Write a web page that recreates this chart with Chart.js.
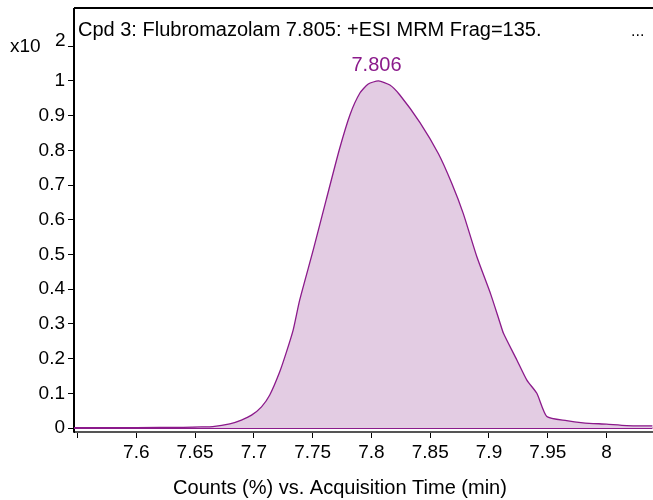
<!DOCTYPE html>
<html>
<head>
<meta charset="utf-8">
<script src="https://cdn.jsdelivr.net/npm/chart.js@4/dist/chart.umd.min.js"></script>
<style>
html,body{margin:0;padding:0;background:#fff;}
#wrap{width:653px;height:500px;}
</style>
</head>
<body>
<div id="wrap"><canvas id="c" width="653" height="500"></canvas></div>
<script>
// Acquisition time (min)
const times = [7.547, 7.600, 7.640, 7.655, 7.665, 7.6795, 7.6894, 7.698, 7.7065, 7.7135, 7.722, 7.7278, 7.7334, 7.739, 7.7505, 7.7615, 7.7726, 7.7817, 7.7902, 7.7973, 7.806, 7.8157, 7.824, 7.8413, 7.857, 7.8683, 7.878, 7.8896, 7.9015, 7.909, 7.9123, 7.9237, 7.9322, 7.9407, 7.9492, 7.966, 7.980, 8.000, 8.017, 8.039];
// Counts (%) x10^2
const counts = [0.001, 0.001, 0.002, 0.003, 0.004, 0.012, 0.023, 0.037, 0.061, 0.095, 0.162, 0.220, 0.282, 0.369, 0.513, 0.657, 0.801, 0.902, 0.965, 0.991, 1.000, 0.988, 0.960, 0.880, 0.790, 0.705, 0.619, 0.494, 0.385, 0.307, 0.273, 0.196, 0.138, 0.100, 0.033, 0.021, 0.015, 0.011, 0.007, 0.006];
const xTicks = [7.55, 7.6, 7.65, 7.7, 7.75, 7.8, 7.85, 7.9, 7.95, 8.0];
const yTicks = [0, 0.1, 0.2, 0.3, 0.4, 0.5, 0.6, 0.7, 0.8, 0.9, 1.0, 1.1];
const peakTime = 7.806;
const peakLabel = "7.806";
const titleText = "Cpd 3: Flubromazolam 7.805: +ESI MRM Frag=135.";
const xTitle = "Counts (%) vs. Acquisition Time (min)";

const FONT = "'Liberation Sans', Arial, sans-serif";
const PURPLE = "#8B1A8B";

const textPlugin = {
  id: 'texts',
  afterDraw(chart) {
    const ctx = chart.ctx;
    const a = chart.chartArea;
    const xs = chart.scales.x, ys = chart.scales.y;
    ctx.save();
    // frame top & left
    ctx.strokeStyle = '#000';
    ctx.lineWidth = 2;
    ctx.beginPath();
    ctx.moveTo(a.left, a.top);
    ctx.lineTo(a.right, a.top);
    ctx.stroke();
    ctx.lineWidth = 1;
    ctx.beginPath();
    ctx.moveTo(a.left - 0.5, a.top);
    ctx.lineTo(a.left - 0.5, a.bottom);
    ctx.stroke();
    ctx.fillStyle = '#000';
    ctx.font = "20px " + FONT;
    ctx.textBaseline = 'middle';
    ctx.textAlign = 'left';
    ctx.fillText(titleText, a.left + 4, 30);
    ctx.font = "16px " + FONT;
    ctx.fillText("...", 631, 32);
    ctx.font = "19px " + FONT;
    ctx.fillText("x10", 10, ys.getPixelForValue(1.1) + 1);
    ctx.fillText("2", 55, ys.getPixelForValue(1.1) - 5);
    ctx.font = "20px " + FONT;
    ctx.textAlign = 'center';
    ctx.fillText(xTitle, 340, 488);
    ctx.fillStyle = PURPLE;
    const pIdx = times.indexOf(peakTime);
    ctx.fillText(peakLabel, xs.getPixelForValue(peakTime) - 2, ys.getPixelForValue(counts[pIdx]) - 15);
    ctx.restore();
  }
};

const pts = times.map((t, i) => ({x: t, y: counts[i]}));

new Chart(document.getElementById('c'), {
  type: 'line',
  data: {
    datasets: [
      {
        data: pts,
        borderColor: PURPLE,
        borderWidth: 1.3,
        backgroundColor: 'rgba(227,204,227,1)',
        fill: 'origin',
        pointRadius: 0,
        tension: 0.2
      },
      {
        data: [{x: times[0], y: 0}, {x: times[times.length - 1], y: 0}],
        borderColor: PURPLE,
        borderWidth: 2,
        pointRadius: 0,
        fill: false
      }
    ]
  },
  options: {
    responsive: false,
    animation: false,
    layout: {padding: {top: 8, right: 0, left: 0, bottom: 0}},
    plugins: {legend: {display: false}, tooltip: {enabled: false}},
    scales: {
      x: {
        type: 'linear',
        min: 7.547,
        max: 8.0395,
        afterBuildTicks(s) { s.ticks = xTicks.map(v => ({value: v})); },
        afterFit(s) { s.height = 68; s.paddingLeft = 0; s.paddingRight = 0; },
        ticks: {
          color: '#000',
          font: {size: 19, family: FONT},
          padding: 3,
          maxRotation: 0,
          autoSkip: false,
          callback(v) { return Math.abs(v - 7.55) < 1e-6 ? '' : String(+v.toFixed(2)); }
        },
        grid: {drawOnChartArea: false, drawTicks: true, tickLength: 6, color: '#000'},
        border: {color: '#555', width: 2}
      },
      y: {
        type: 'linear',
        min: -0.0115,
        max: 1.21,
        afterBuildTicks(s) { s.ticks = yTicks.map(v => ({value: v})); },
        afterFit(s) { s.width = 74; s.paddingTop = 0; s.paddingBottom = 0; },
        ticks: {
          color: '#000',
          font: {size: 19, family: FONT},
          padding: 3,
          autoSkip: false,
          callback(v) { return Math.abs(v - 1.1) < 1e-6 ? '' : String(+v.toFixed(1)); }
        },
        grid: {drawOnChartArea: false, drawTicks: true, tickLength: 6, color: '#000'},
        border: {color: '#000', width: 1}
      }
    }
  },
  plugins: [textPlugin]
});
</script>
</body>
</html>
